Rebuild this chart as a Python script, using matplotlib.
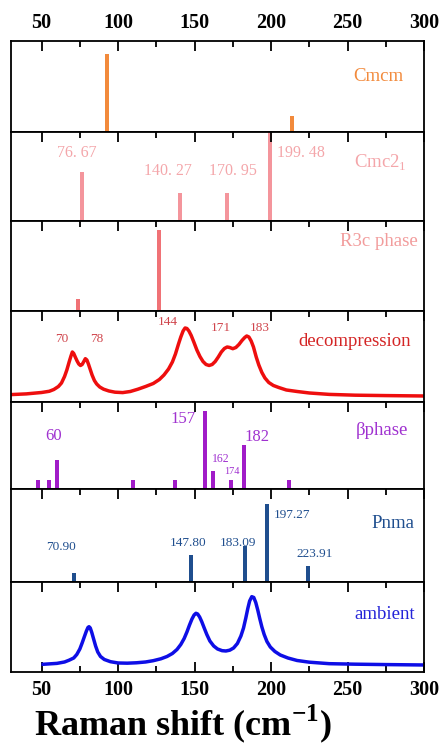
import matplotlib
matplotlib.use("Agg")
import matplotlib.pyplot as plt
from matplotlib.ticker import MultipleLocator

plt.rcParams["font.family"] = ["Liberation Serif", "DejaVu Serif"]
plt.rcParams["mathtext.fontset"] = "custom"
plt.rcParams["mathtext.rm"] = "Liberation Serif"
plt.rcParams["mathtext.bf"] = "Liberation Serif:bold"

# ---- data (intensities in arbitrary units) ----
cmcm_pos = [93, 214]
cmcm_int = [78, 16]

cmc21_pos = [76.67, 140.27, 170.95, 199.48]
cmc21_int = [49, 28, 28, 92]
cmc21_labels = ["76. 67", "140. 27", "170. 95", "199. 48"]

r3c_pos = [74, 127]
r3c_int = [11.7, 81]

decomp_x = [30, 40, 50, 55, 58, 61, 63, 65, 66.5, 68, 69.2, 70.1, 71, 72,
            73.2, 74.3, 75.4, 76.5, 77.6, 78.6, 79.6, 80.6, 81.8, 83, 84.5,
            86, 88, 90.5, 94, 98, 103, 108, 113, 118, 123, 127, 130, 133,
            135.5, 137.5, 139.5, 141, 142.5, 143.8, 145, 146.3, 147.8, 149.5,
            151.5, 153.5, 155.5, 157.5, 159.5, 161.5, 163.5, 165.5, 167.5,
            169.5, 171.3, 173, 175, 177, 179, 181, 182.8, 184.1, 185.5, 187,
            188.5, 190.3, 192, 194, 196, 198.5, 201.5, 205, 210, 217, 225,
            238, 255, 275, 300]
decomp_y = [7.4, 8.1, 9.5, 10.7, 12.5, 15.5, 19, 25.5, 32, 40, 46, 50, 48.5,
            45, 41, 38, 36.5, 37.5, 40.5, 43.3, 42, 38, 32.5, 27, 21.5, 18,
            15, 12.8, 11, 9.8, 9.4, 10.5, 12.8, 15.5, 18.5, 22.5, 27, 33, 40,
            48, 58, 65, 71, 74, 73.5, 71, 66.5, 60, 52, 45.5, 40.5, 37.5,
            36.5, 37.5, 40.5, 45, 50, 53.5, 55, 54.5, 53.3, 54.5, 57.5, 61.5,
            64.5, 66, 65, 61, 55, 45, 37, 29.5, 24, 19.5, 16.5, 14.5, 12,
            10.5, 9, 7.6, 6.8, 6.4, 6.0]
decomp_peaks = ["70", "78", "144", "171", "183"]

beta_pos = [47.4, 55, 60, 110, 137, 157, 162, 174, 182, 212]
beta_int = [9, 9, 29, 9, 9, 78, 18, 9, 44, 9]

pnma_pos = [70.90, 147.80, 183.09, 197.27, 223.91]
pnma_int = [9.4, 26.7, 36, 78.4, 16]
pnma_labels = ["70.90", "147.80", "183.09", "197.27", "223.91"]

amb_x = [51, 60, 65, 68, 71, 73, 75, 76.5, 78, 79.3, 80.3, 81, 81.8, 82.8,
         84, 85.3, 86.7, 88.5, 91, 95, 100, 106, 112, 118, 123, 128, 132,
         135.5, 138.5, 141, 143.2, 145, 146.7, 148.3, 149.7, 150.9, 152,
         153.3, 154.7, 156.3, 158, 160, 162.5, 165, 168, 170.5, 173, 175.5,
         178, 180.3, 182, 183.5, 184.8, 186, 187.4, 188.7, 190, 191.3, 192.6,
         194, 195.5, 197.3, 199.5, 202.5, 206, 211, 217, 225, 238, 255, 275,
         300]
amb_y = [7.7, 8.6, 10, 11.8, 14, 17.5, 23, 29, 35.5, 41, 44.5, 45.3, 44,
         39.5, 33, 26, 20, 15.5, 12.5, 10.3, 9, 8.8, 9.2, 10, 11.3, 13.2,
         15.5, 18.5, 22.5, 27.5, 33.5, 40, 47, 53, 57, 58.7, 58, 55, 50.3, 44,
         37.5, 31, 26, 23, 21.3, 21, 21.8, 24, 28.5, 36, 44, 54, 63.5, 71,
         75.3, 74.5, 69.5, 62, 53.5, 45, 37.5, 30.5, 25, 20.5, 17, 14, 11.5,
         9.8, 8.3, 7.8, 7.4, 7.0]

heights = [91, 89, 90, 91, 87, 93, 90]

fig, axes = plt.subplots(7, 1, sharex=True, figsize=(4.44, 7.44), dpi=100,
                         gridspec_kw={"hspace": 0, "height_ratios": heights})
fig.subplots_adjust(left=0.0248, right=0.955, top=0.9449, bottom=0.0968)

for i, ax in enumerate(axes):
    ax.set_xlim(30, 300)
    ax.set_ylim(0, heights[i])
    ax.set_yticks([])
    ax.xaxis.set_major_locator(MultipleLocator(50))
    ax.xaxis.set_minor_locator(MultipleLocator(25))
    last = i == len(axes) - 1
    ax.tick_params(axis="x", which="both", direction="in", top=True,
                   bottom=last, labeltop=(i == 0), labelbottom=last,
                   width=1.3, labelsize=14.5, pad=6)
    ax.tick_params(axis="x", which="major", length=7)
    ax.tick_params(axis="x", which="minor", length=4)
    for s in ax.spines.values():
        s.set_linewidth(1.3)
    for lab in ax.get_xticklabels():
        lab.set_fontweight("bold")

bw = 2.6
name_fs = 13.5

# Cmcm
ax = axes[0]
ax.bar(cmcm_pos, cmcm_int, width=bw, color="#F28A3C")
ax.text(0.951, 0.615, "Cmcm", transform=ax.transAxes, ha="right", va="center",
        color="#F28A3C", fontsize=name_fs)

# Cmc2_1
ax = axes[1]
ax.bar(cmc21_pos, cmc21_int, width=bw, color="#F4959C")
lab_xy = [(73.1, 68, "center"), (132.6, 50, "center"), (175.1, 50, "center"),
          (203.9, 68, "left")]
for (x, y, ha), t in zip(lab_xy, cmc21_labels):
    ax.text(x, y, t, ha=ha, va="center", color="#F4A6AA", fontsize=11.5)
ax.text(0.959, 0.65, "Cmc2$_1$", transform=ax.transAxes, ha="right",
        va="center", color="#F4A6AA", fontsize=name_fs)

# R3c
ax = axes[2]
ax.bar(r3c_pos, r3c_int, width=bw, color="#F07276")
ax.text(0.985, 0.77, "R3c phase", transform=ax.transAxes, ha="right",
        va="center", color="#F29C9C", fontsize=name_fs)

# decompression
ax = axes[3]
ax.plot(decomp_x, decomp_y, color="#EE0E0E", lw=2.5, solid_joinstyle="round")
pk_xy = [(63.1, 63.4), (86, 63.4), (132.6, 80), (167.1, 74), (192.3, 74)]
for (x, y), t in zip(pk_xy, decomp_peaks):
    ax.text(x, y, t, ha="center", va="center", color="#D0454C", fontsize=9.5)
ax.text(0.968, 0.67, "decompression", transform=ax.transAxes, ha="right",
        va="center", color="#D42525", fontsize=name_fs)

# beta phase
ax = axes[4]
purple = "#A11CC8"
ax.bar(beta_pos, beta_int, width=bw, color=purple)
beta_text = [(57.7, 53, "60", 12), (142.6, 70, "157", 12),
             (167.3, 29.7, "162", 8.5), (174.3, 17.3, "174", 7.5),
             (191, 52.3, "182", 12)]
for x, y, t, fs in beta_text:
    ax.text(x, y, t, ha="center", va="center", color="#A032D0", fontsize=fs)
ax.text(0.961, 0.67, "\u03b2phase", transform=ax.transAxes, ha="right",
        va="center", color="#A032D0", fontsize=name_fs)

# Pnma
ax = axes[5]
navy = "#1F4E8E"
ax.bar(pnma_pos, pnma_int, width=bw, color=navy)
pn_xy = [(62.5, 35, "center"), (145.9, 39, "center"), (178.6, 39, "center"),
         (201.5, 66.7, "left"), (228.3, 28.4, "center")]
for (x, y, ha), t in zip(pn_xy, pnma_labels):
    ax.text(x, y, t, ha=ha, va="center", color=navy, fontsize=9.5)
ax.text(0.978, 0.634, "Pnma", transform=ax.transAxes, ha="right",
        va="center", color=navy, fontsize=name_fs)

# ambient
ax = axes[6]
ax.plot(amb_x, amb_y, color="#0E0EE6", lw=2.5, solid_joinstyle="round")
ax.text(0.978, 0.64, "ambient", transform=ax.transAxes, ha="right",
        va="center", color="#2424D8", fontsize=name_fs)

fig.text(0.412, 0.0121, "Raman shift (cm$^{\\mathbf{-1}}$)", ha="center",
         va="baseline", fontsize=26, fontweight="bold")

fig.savefig("out.png", dpi=100)
